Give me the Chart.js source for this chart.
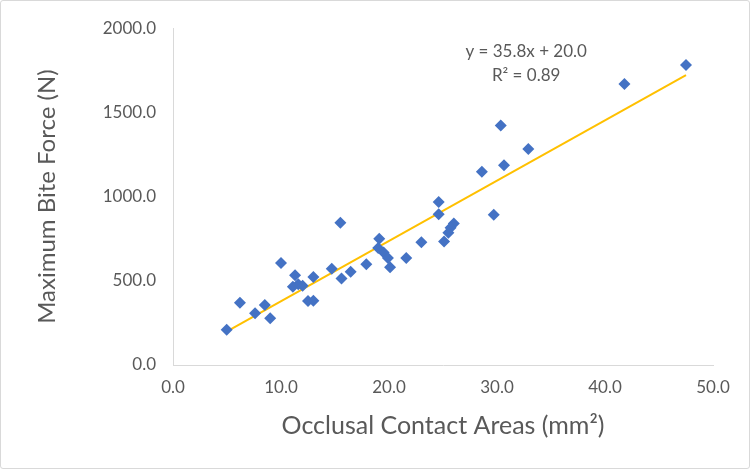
<!DOCTYPE html>
<html>
<head>
<meta charset="utf-8">
<script src="https://cdn.jsdelivr.net/npm/chart.js@4"></script>
<style>
  html, body { margin: 0; padding: 0; background: #fff; }
  #box { position: relative; width: 748px; height: 467px; border: 1px solid #d9d9d9; border-radius: 3px; }
  canvas { display: block; }
</style>
</head>
<body>
<div id="box"><canvas id="c" width="748" height="467"></canvas></div>
<script>
// contact area (mm²) vs max bite force (N)
const areaX = [4.97, 6.2, 7.6, 8.5, 9.0, 10.0, 11.3, 11.1, 11.6, 12.0, 12.5, 13.0, 13.0,
  14.7, 15.6, 15.5, 16.45, 17.9, 19.1, 19.0, 19.5, 19.9, 20.1, 21.6, 23.0, 25.1, 24.6,
  24.6, 26.0, 25.7, 25.5, 29.7, 28.6, 30.65, 30.35, 32.9, 41.8, 47.5];
const forceY = [210, 370, 308, 357, 278, 606, 533, 465, 480, 470, 380, 382, 523,
  572, 513, 845, 553, 598, 750, 695, 668, 635, 580, 635, 729, 733, 968,
  895, 840, 815, 785, 892, 1147, 1186, 1422, 1282, 1669, 1782];

// linear trendline ends
const trendX = [5.0, 47.5];
const trendY = [199, 1721];

const eqLines = ["y = 35.8x + 20.0", "R² = 0.89"];

const FONT = "Lato";
const GREY = "#595959";

const eqLabel = {
  id: "eqLabel",
  afterDraw(chart) {
    const {ctx, scales: {x, y}} = chart;
    ctx.save();
    ctx.font = `17px ${FONT}`;
    ctx.fillStyle = GREY;
    ctx.textAlign = "center";
    ctx.textBaseline = "middle";
    ctx.fillText(eqLines[0], x.getPixelForValue(32.7), y.getPixelForValue(1859));
    ctx.fillText(eqLines[1], x.getPixelForValue(32.7), y.getPixelForValue(1718));
    ctx.restore();
  }
};

new Chart(document.getElementById("c"), {
  type: "scatter",
  data: {
    datasets: [
      {
        label: "Bite force",
        data: areaX.map((v, i) => ({x: v, y: forceY[i]})),
        pointStyle: "rectRot",
        pointRadius: 6,
        pointHoverRadius: 6,
        backgroundColor: "#4472C4",
        borderColor: "#4472C4",
        borderWidth: 0
      },
      {
        type: "line",
        label: "Linear",
        data: trendX.map((v, i) => ({x: v, y: trendY[i]})),
        borderColor: "#FFC000",
        borderWidth: 2,
        pointRadius: 0,
        fill: false
      }
    ]
  },
  options: {
    responsive: false,
    animation: false,
    layout: { padding: { left: 32, right: 36, top: 23, bottom: 27 } },
    plugins: { legend: { display: false }, tooltip: { enabled: false } },
    scales: {
      x: {
        min: 0, max: 50,
        ticks: { stepSize: 10, padding: 12, color: GREY, font: { family: FONT, size: 17 },
          callback: v => v.toFixed(1) },
        grid: { display: false, drawTicks: false },
        border: { color: "#d9d9d9", width: 1 },
        title: { display: true, text: "Occlusal Contact Areas (mm²)", color: GREY,
          font: { family: FONT, size: 25 }, padding: 0 },
        afterFit(s) { s.height = 76; }
      },
      y: {
        min: 0, max: 2000,
        ticks: { stepSize: 500, padding: 17, color: GREY, font: { family: FONT, size: 17 },
          callback: v => v.toFixed(1) },
        grid: { display: false, drawTicks: false },
        border: { color: "#d9d9d9", width: 1 },
        title: { display: true, text: "Maximum Bite Force (N)", color: GREY,
          font: { family: FONT, size: 24 }, padding: 0 },
        afterFit(s) { s.width = 140; }
      }
    }
  },
  plugins: [eqLabel]
});
</script>
</body>
</html>
